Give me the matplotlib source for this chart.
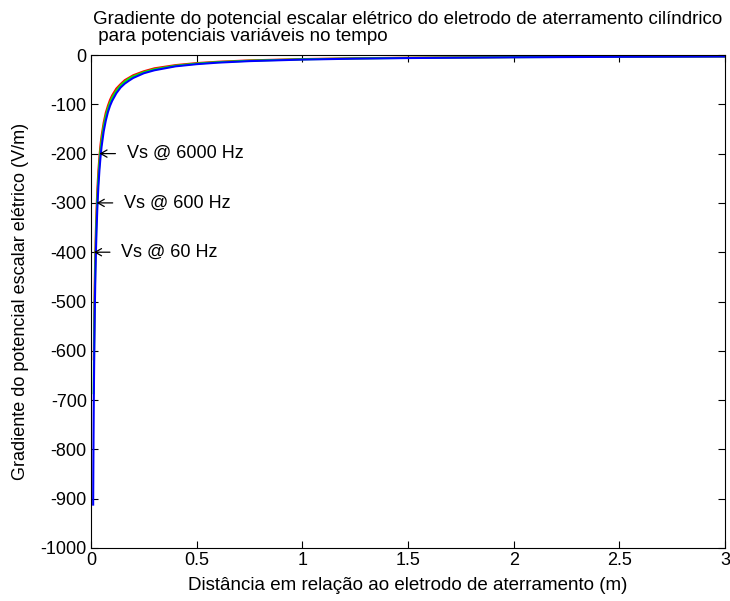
import matplotlib
matplotlib.use("Agg")
import matplotlib.pyplot as plt

plt.rcParams['font.family'] = ['Liberation Sans', 'DejaVu Sans']
plt.rcParams['font.size'] = 13
plt.rcParams['axes.unicode_minus'] = False

# Electric field gradient (V/m) versus distance from the grounding rod (m)
x_60 = [0.0133, 0.014, 0.016, 0.018, 0.02, 0.023, 0.026, 0.03, 0.035, 0.04,
        0.045, 0.05, 0.06, 0.07, 0.08, 0.09, 0.1, 0.12, 0.14, 0.16, 0.18,
        0.2, 0.25, 0.3, 0.4, 0.5, 0.6, 0.75, 1.0, 1.25, 1.5, 2.0, 2.5, 3.0]
y_60 = [-617, -586, -513, -456, -410, -357, -315, -273, -234, -205,
        -182, -164, -137, -117, -103, -91, -82, -68, -59, -51, -46,
        -41, -33, -27, -20.5, -16.4, -13.7, -10.9, -8.2, -6.6, -5.5, -4.1, -3.3, -2.7]

x_600 = [0.0127, 0.014, 0.016, 0.018, 0.02, 0.023, 0.026, 0.03, 0.035, 0.04,
         0.045, 0.05, 0.06, 0.07, 0.08, 0.09, 0.1, 0.12, 0.14, 0.16, 0.18,
         0.2, 0.25, 0.3, 0.4, 0.5, 0.6, 0.75, 1.0, 1.25, 1.5, 2.0, 2.5, 3.0]
y_600 = [-686, -621, -544, -483, -435, -378, -335, -290, -249, -218,
         -193, -174, -145, -124, -109, -97, -87, -72.5, -62, -54, -48,
         -43.5, -35, -29, -21.8, -17.4, -14.5, -11.6, -8.7, -7.0, -5.8, -4.35, -3.5, -2.9]

x_6000 = [0.0102, 0.011, 0.012, 0.013, 0.014, 0.016, 0.018, 0.02, 0.023, 0.026,
          0.03, 0.035, 0.04, 0.045, 0.05, 0.06, 0.07, 0.08, 0.09, 0.1, 0.12,
          0.14, 0.16, 0.18, 0.2, 0.25, 0.3, 0.4, 0.5, 0.6, 0.75, 1.0, 1.25,
          1.5, 2.0, 2.5, 3.0]
y_6000 = [-912, -845, -775, -715, -664, -581, -517, -465, -404, -358,
          -310, -266, -233, -207, -186, -155, -133, -116, -103, -93, -77.5,
          -66, -58, -52, -46.5, -37, -31, -23, -18.6, -15.5, -12.4, -9.3, -7.4,
          -6.2, -4.65, -3.7, -3.1]

labels = ['Vs @ 6000 Hz', 'Vs @ 600 Hz', 'Vs @ 60 Hz']
label_x = [0.04, 0.027, 0.014]
label_y = [-200, -300, -400]

xticks = [0, 0.5, 1, 1.5, 2, 2.5, 3]
xtick_labels = ['0', '0.5', '1', '1.5', '2', '2.5', '3']
yticks = list(range(-1000, 1, 100))

fig = plt.figure(figsize=(7.30, 6.01), dpi=100)
ax = fig.add_axes([91 / 730, 1 - 548 / 601, (725 - 91) / 730, (548 - 55) / 601])

ax.plot(x_60, y_60, color=(1, 0, 0), lw=1.5)
ax.plot(x_600, y_600, color=(0, 1, 0), lw=1.5)
ax.plot(x_6000, y_6000, color=(0, 0, 1), lw=1.5)

for tx, ty, s in zip(label_x, label_y, labels):
    ax.annotate(s, xy=(tx, ty), xytext=(19.5, 0), textcoords='offset points',
                ha='left', va='center',
                arrowprops=dict(arrowstyle='->,head_length=0.35,head_width=0.2',
                                lw=0.9, color='black', shrinkA=6, shrinkB=0))

ax.set_xlim(0, 3)
ax.set_ylim(-1000, 0)
ax.set_xticks(xticks)
ax.set_xticklabels(xtick_labels)
ax.set_yticks(yticks)
ax.tick_params(direction='in', top=True, right=True, length=5, width=0.8, pad=3)
for sp in ax.spines.values():
    sp.set_linewidth(0.8)

ax.set_xlabel('Distância em relação ao eletrodo de aterramento (m)',
              fontsize=13.5, labelpad=6)
ax.set_ylabel('Gradiente do potencial escalar elétrico (V/m)', labelpad=8)
ax.set_title('Gradiente do potencial escalar elétrico do eletrodo de aterramento cilíndrico\n'
             ' para potenciais variáveis no tempo', fontsize=13.5, loc='center',
             multialignment='left', pad=10, linespacing=1.0)

fig.savefig('out.png', dpi=100)
